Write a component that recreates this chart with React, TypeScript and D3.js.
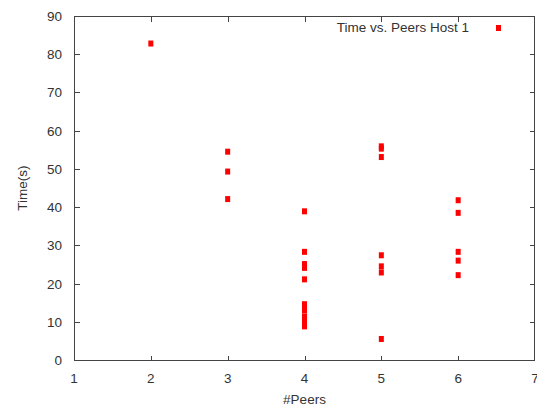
import React, { useEffect, useRef } from "react";
import * as d3 from "d3";

// peers count per run and measured time (s)
const peers = [
  2,
  3, 3, 3,
  4, 4, 4, 4, 4, 4, 4, 4, 4, 4, 4, 4, 4,
  5, 5, 5, 5, 5, 5, 5,
  6, 6, 6, 6, 6,
];
const times = [
  82.8,
  54.5, 49.3, 42.1,
  38.9, 28.3, 25.1, 24.1, 21.1, 14.6, 13.8, 13.0, 11.4, 10.7, 10.0, 9.4, 8.8,
  55.9, 55.3, 53.1, 27.4, 24.5, 22.9, 5.5,
  41.8, 38.5, 28.3, 26.0, 22.2,
];
const xTicks = [1, 2, 3, 4, 5, 6, 7];
const yTicks = [0, 10, 20, 30, 40, 50, 60, 70, 80, 90];
const legendLabel = "Time vs. Peers Host 1";

const W = 537;
const H = 406;
const margin = { top: 16, right: 2, bottom: 46, left: 74 };
const font = "'Liberation Sans', Arial, sans-serif";
const textColor = "#333";
const axisColor = "#444";

const App = () => {
  const svgRef = useRef<SVGSVGElement | null>(null);

  useEffect(() => {
    const svg = d3.select(svgRef.current);
    svg.selectAll("*").remove();

    const x = d3.scaleLinear().domain([1, 7]).range([margin.left, W - margin.right]);
    const y = d3.scaleLinear().domain([0, 90]).range([H - margin.bottom, margin.top]);
    const tick = 5;

    const x0 = Math.round(x(1)) + 0.5;
    const x1 = Math.round(x(7)) - 0.5;
    const y0 = Math.round(y(0)) + 0.5;
    const y1 = Math.round(y(90)) + 0.5;

    // ticks, mirrored on all sides like gnuplot
    const g = svg.append("g").attr("stroke", axisColor).attr("stroke-width", 1).attr("shape-rendering", "crispEdges");
    xTicks.slice(1, -1).forEach((t) => {
      const px = Math.round(x(t)) + 0.5;
      g.append("line").attr("x1", px).attr("x2", px).attr("y1", y0).attr("y2", y0 - tick);
      g.append("line").attr("x1", px).attr("x2", px).attr("y1", y1).attr("y2", y1 + tick);
    });
    yTicks.slice(1, -1).forEach((t) => {
      const py = Math.round(y(t)) + 0.5;
      g.append("line").attr("x1", x0).attr("x2", x0 + tick).attr("y1", py).attr("y2", py);
      g.append("line").attr("x1", x1).attr("x2", x1 - tick).attr("y1", py).attr("y2", py);
    });
    g.append("path")
      .attr("d", `M${x0},${y1}H${x1}V${y0}H${x0}Z`)
      .attr("fill", "none");

    const labels = svg.append("g").attr("font-family", font).attr("font-size", 13.5).attr("fill", textColor);
    xTicks.forEach((t) => {
      labels.append("text").attr("x", x(t)).attr("y", y(0) + 23).attr("text-anchor", "middle").text(t);
    });
    yTicks.forEach((t) => {
      labels.append("text").attr("x", x(1) - 12).attr("y", y(t) + 5).attr("text-anchor", "end").text(t);
    });
    labels.append("text").attr("x", (x(1) + x(7)) / 2).attr("y", H - 2).attr("text-anchor", "middle").text("#Peers");
    labels.append("text")
      .attr("transform", `translate(27,${(y(0) + y(90)) / 2}) rotate(-90)`)
      .attr("text-anchor", "middle")
      .text("Time(s)");

    // legend
    labels.append("text").attr("x", 469).attr("y", 32).attr("text-anchor", "end").text(legendLabel);
    svg.append("rect").attr("x", 496).attr("y", 25).attr("width", 5).attr("height", 6).attr("fill", "#f00");

    svg.append("g")
      .selectAll("rect")
      .data(peers.map((p, i) => ({ p, t: times[i] })))
      .join("rect")
      .attr("x", (d) => x(d.p) - 2.5)
      .attr("y", (d) => y(d.t) - 3)
      .attr("width", 5)
      .attr("height", 6)
      .attr("fill", "#f00");
  }, []);

  return <svg ref={svgRef} width={W} height={H} style={{ position: "absolute", left: 0, top: 0 }} />;
};

export default App;
